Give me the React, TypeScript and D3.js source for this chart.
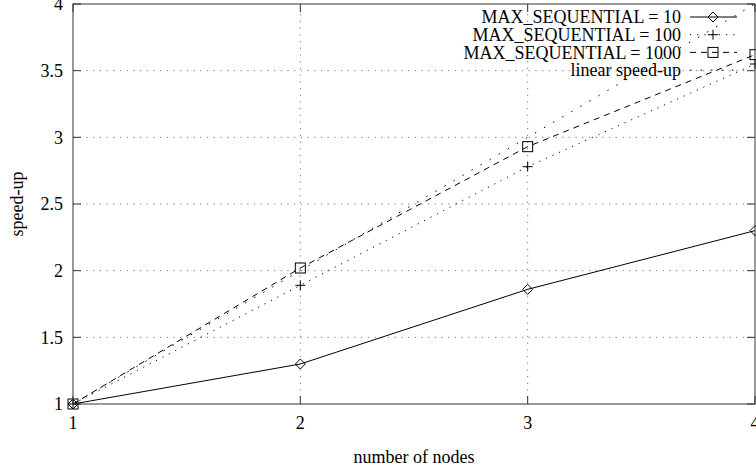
import React from 'react';
import * as d3 from 'd3';

const nodes = [1, 2, 3, 4];
const seq10 = [1, 1.3, 1.86, 2.3];
const seq100 = [1, 1.89, 2.78, 3.55];
const seq1000 = [1, 2.02, 2.93, 3.62];
const linear = [1, 2, 3, 4];

const xTicks = [1, 2, 3, 4];
const yTicks = [1, 1.5, 2, 2.5, 3, 3.5, 4];

const width = 756;
const height = 469;
const margin = { left: 73, right: 1, top: 4, bottom: 65 };

const font = '"Liberation Serif", "Times New Roman", serif';

const series = [
	{ name: 'MAX_SEQUENTIAL = 10', values: seq10, dash: null, marker: 'diamond' },
	{ name: 'MAX_SEQUENTIAL = 100', values: seq100, dash: '1.2,6', marker: 'plus' },
	{ name: 'MAX_SEQUENTIAL = 1000', values: seq1000, dash: '6,5', marker: 'square' },
	{ name: 'linear speed-up', values: linear, dash: '1.5,9', marker: null },
];

const Marker = ({ type, x, y }: { type: string | null; x: number; y: number }) => {
	const s = 5;
	if (type === 'diamond') {
		return <path d={`M${x - s},${y} L${x},${y - s} L${x + s},${y} L${x},${y + s} Z`} fill="none" stroke="#000" strokeWidth={1} />;
	}
	if (type === 'plus') {
		return <path d={`M${x - s},${y} H${x + s} M${x},${y - s} V${y + s}`} fill="none" stroke="#000" strokeWidth={1} />;
	}
	if (type === 'square') {
		return <rect x={x - s} y={y - s} width={2 * s} height={2 * s} fill="none" stroke="#000" strokeWidth={1} />;
	}
	return null;
};

export default function App() {
	const x = d3.scaleLinear().domain([1, 4]).range([margin.left, width - margin.right]);
	const y = d3.scaleLinear().domain([1, 4]).range([height - margin.bottom, margin.top]);
	const line = d3.line<number>().x((_, i) => x(nodes[i])).y((d) => y(d));

	const [x0, x1] = x.range();
	const [y0, y1] = y.range();

	return (
		<svg width={width} height={height} style={{ position: 'absolute', left: 0, top: 0, background: '#fff' }} fontFamily={font}>
			<g className="grid" stroke="#777" strokeWidth={1} strokeDasharray="1.2,5.5">
				{yTicks.slice(1, -1).map((t) => (
					<line key={`gy${t}`} x1={x0} x2={x1} y1={y(t)} y2={y(t)} />
				))}
				{xTicks.slice(1, -1).map((t) => (
					<line key={`gx${t}`} x1={x(t)} x2={x(t)} y1={y0} y2={y1} />
				))}
			</g>

			<g className="series">
				{series.map((s) => (
					<g key={s.name}>
						<path d={line(s.values) || ''} fill="none" stroke="#000" strokeWidth={1} strokeDasharray={s.dash || undefined} />
						{s.values.map((v, i) => (
							<Marker key={i} type={s.marker} x={x(nodes[i])} y={y(v)} />
						))}
					</g>
				))}
			</g>

			<g className="frame" stroke="#333" strokeWidth={1} fill="none">
				<rect x={x0} y={y1} width={x1 - x0} height={y0 - y1} />
				{yTicks.map((t) => (
					<g key={`ty${t}`}>
						<line x1={x0} x2={x0 + 8} y1={y(t)} y2={y(t)} />
						<line x1={x1} x2={x1 - 8} y1={y(t)} y2={y(t)} />
					</g>
				))}
				{xTicks.map((t) => (
					<g key={`tx${t}`}>
						<line x1={x(t)} x2={x(t)} y1={y0} y2={y0 - 8} />
						<line x1={x(t)} x2={x(t)} y1={y1} y2={y1 + 8} />
					</g>
				))}
			</g>

			<g className="labels" fontSize={18} fill="#000">
				{yTicks.map((t) => (
					<text key={`ly${t}`} x={x0 - 10} y={y(t)} dy="0.35em" textAnchor="end">{t}</text>
				))}
				{xTicks.map((t) => (
					<text key={`lx${t}`} x={x(t)} y={y0 + 25} textAnchor="middle">{t}</text>
				))}
				<text x={(x0 + x1) / 2} y={463} textAnchor="middle">number of nodes</text>
				<text transform={`translate(23,${(y0 + y1) / 2})rotate(-90)`} textAnchor="middle">speed-up</text>
			</g>

			<g className="legend" fontSize={18}>
				{series.map((s, i) => {
					const ly = 17 + i * 17.7;
					return (
						<g key={`leg${s.name}`}>
							<text x={681} y={ly} dy="0.35em" textAnchor="end">{s.name}</text>
							<line x1={690} x2={737} y1={ly} y2={ly} stroke="#000" strokeWidth={1} strokeDasharray={s.dash || undefined} />
							<Marker type={s.marker} x={713} y={ly} />
						</g>
					);
				})}
			</g>
		</svg>
	);
}
